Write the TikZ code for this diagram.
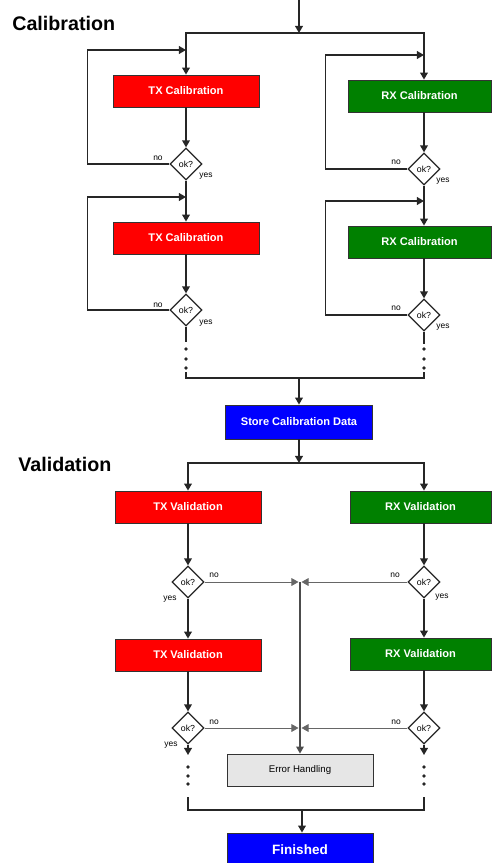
\documentclass[tikz,border=0pt]{standalone}
\usepackage{fontspec}
\setmainfont{Liberation Sans}
\usepackage{xcolor}
\usetikzlibrary{positioning, shapes.geometric, arrows.meta, calc}
\definecolor{rxgreen}{RGB}{0,128,0}
\definecolor{errgray}{RGB}{230,230,230}

\begin{document}
\begin{tikzpicture}[
    x=0.02cm, y=-0.02cm,
    box/.style={draw=black!80, line width=0.5pt, minimum height=0.64cm,
                minimum width=2.92cm, inner sep=0pt, text=white,
                font=\fontsize{6.3}{7.5}\selectfont\bfseries},
    txbox/.style={box, fill=red},
    rxbox/.style={box, fill=rxgreen, minimum width=2.86cm},
    bluebox/.style={box, fill=blue, minimum width=2.94cm, minimum height=0.68cm},
    errbox/.style={box, fill=errgray, text=black, font=\fontsize{5.5}{6.5}\selectfont},
    okdia/.style={diamond, draw=black!85, line width=0.75pt, fill=white,
                  minimum width=0.64cm, minimum height=0.64cm, inner sep=0pt,
                  font=\fontsize{5}{6}\selectfont},
    lbl/.style={inner sep=0pt, font=\fontsize{4.8}{5.5}\selectfont},
    title/.style={anchor=base west, inner sep=0pt, font=\fontsize{11.2}{13}\selectfont\bfseries},
    line/.style={draw=black!85, line width=0.8pt},
    thinline/.style={draw=black!60, line width=0.5pt},
    arr/.style={line, -{Triangle[length=4pt,width=4.4pt]}},
    tarr/.style={thinline, -{Triangle[length=4pt,width=4.4pt]}},
    dot/.style={fill=black!85},
  ]
  \useasboundingbox (0,0) rectangle (492,863);

  % titles
  \node[title] (caltitle) at (12,30) {Calibration};
  \node[title] (valtitle) at (18,471) {Validation};

  % calibration
  \coordinate (in) at (299,0);
  \coordinate (split) at (299,33);
  \node[txbox] (txc1) at (186,91) {TX Calibration};
  \node[rxbox] (rxc1) at (419.5,96) {RX Calibration};
  \node[okdia] (dtx1) at (186,164) {ok?};
  \node[okdia] (drx1) at (424,169) {ok?};
  \node[txbox] (txc2) at (186,238) {TX Calibration};
  \node[rxbox] (rxc2) at (419.5,242) {RX Calibration};
  \node[okdia] (dtx2) at (186,310) {ok?};
  \node[okdia] (drx2) at (424,315) {ok?};
  \coordinate (txl1) at (186,50);
  \coordinate (rxl1) at (424,55);
  \coordinate (txl2) at (186,197);
  \coordinate (rxl2) at (424,201);

  \draw[arr] (in) -- (split);
  \draw[arr] (split) -| (txc1.north);
  \draw[arr] (split) -| (drx1 |- rxc1.north);
  \draw[arr] (txc1) -- (dtx1);
  \draw[arr] (dtx1) -- (txc2);
  \draw[arr] (txc2) -- (dtx2);
  \draw[arr] (drx1 |- rxc1.south) -- (drx1);
  \draw[arr] (drx1) -- (drx1 |- rxc2.north);
  \draw[arr] (drx1 |- rxc2.south) -- (drx2);
  % loops
  \draw[arr] (dtx1.west) -- ++(-82,0) |- (txl1);
  \draw[arr] (dtx2.west) -- ++(-82,0) |- (txl2);
  \draw[arr] (drx1.west) -- ++(-82,0) |- (rxl1);
  \draw[arr] (drx2.west) -- ++(-82,0) |- (rxl2);
  % labels
  \node[lbl] (no1) at (158,158) {no};
  \node[lbl] (yes1) at (206,176) {yes};
  \node[lbl] (no2) at (396,162) {no};
  \node[lbl] (yes2) at (443,181) {yes};
  \node[lbl] (no3) at (158,305) {no};
  \node[lbl] (yes3) at (206,323) {yes};
  \node[lbl] (no4) at (396,308) {no};
  \node[lbl] (yes4) at (443,327) {yes};
  % dots and merge
  \coordinate (txd1) at (186,342);
  \coordinate (txd2) at (186,372);
  \coordinate (rxd1) at (424,344);
  \coordinate (rxd2) at (424,372);
  \coordinate (merge) at (299,378);
  \draw[line] (dtx2) -- (txd1);
  \draw[line] (drx2) -- (rxd1);
  \foreach \y in {349,359,368} {
    \fill[dot] (186,\y) circle[radius=1.05pt];
    \fill[dot] (424,\y) circle[radius=1.05pt];
  }
  \draw[line] (txd2) |- (merge) -| (rxd2);

  \node[bluebox] (store) at (299,422) {Store Calibration Data};
  \draw[arr] (merge) -- (store);

  % validation
  \coordinate (vsplit) at (299,463);
  \node[txbox] (txv1) at (188,507) {TX Validation};
  \node[rxbox, minimum width=2.82cm] (rxv1) at (420.5,507) {RX Validation};
  \node[okdia] (dtv1) at (188,582) {ok?};
  \node[okdia] (drv1) at (424,582) {ok?};
  \node[txbox] (txv2) at (188,655) {TX Validation};
  \node[rxbox, minimum width=2.82cm] (rxv2) at (420.5,654) {RX Validation};
  \node[okdia] (dtv2) at (188,728) {ok?};
  \node[okdia] (drv2) at (424,728) {ok?};
  \node[errbox] (err) at (300,770) {Error Handling};
  \node[bluebox, minimum width=2.92cm, font=\fontsize{7.7}{9}\selectfont\bfseries] (fin) at (300,850) {Finished};

  \draw[arr] (store) -- (vsplit);
  \draw[arr] (vsplit) -| (txv1.north);
  \draw[arr] (vsplit) -| (drv1 |- rxv1.north);
  \draw[arr] (txv1) -- (dtv1);
  \draw[arr] (dtv1) -- (txv2);
  \draw[arr] (txv2) -- (dtv2);
  \draw[arr] (drv1 |- rxv1.south) -- (drv1);
  \draw[arr] (drv1) -- (drv1 |- rxv2.north);
  \draw[arr] (drv1 |- rxv2.south) -- (drv2);
  % to error handling
  \coordinate (e1w) at (298.5,582);
  \coordinate (e1e) at (301.5,582);
  \coordinate (e2w) at (298.5,728);
  \coordinate (e2e) at (301.5,728);
  \draw[tarr] (dtv1) -- (e1w);
  \draw[tarr] (drv1) -- (e1e);
  \draw[tarr] (dtv2) -- (e2w);
  \draw[tarr] (drv2) -- (e2e);
  \draw[arr, draw=black!70, line width=0.6pt] (err.north |- e1w) -- (err);
  % labels
  \node[lbl] (no5) at (214,575) {no};
  \node[lbl] (yes5) at (170,599) {yes};
  \node[lbl] (no6) at (395,575) {no};
  \node[lbl] (yes6) at (442,597) {yes};
  \node[lbl] (no7) at (214,722) {no};
  \node[lbl] (yes7) at (171,745) {yes};
  \node[lbl] (no8) at (396,722) {no};
  % dots and finish
  \coordinate (tvd1) at (188,755);
  \coordinate (tvd2) at (188,797);
  \coordinate (rvd1) at (424,755);
  \coordinate (rvd2) at (424,797);
  \coordinate (vmerge) at (302,810);
  \draw[arr] (dtv2) -- (tvd1);
  \draw[arr] (drv2) -- (rvd1);
  \foreach \y in {767,776,784} {
    \fill[dot] (188,\y) circle[radius=1.05pt];
    \fill[dot] (424,\y) circle[radius=1.05pt];
  }
  \draw[line] (tvd2) |- (vmerge) -| (rvd2);
  \draw[arr] (vmerge) -- (vmerge |- fin.north);
\end{tikzpicture}
\end{document}
